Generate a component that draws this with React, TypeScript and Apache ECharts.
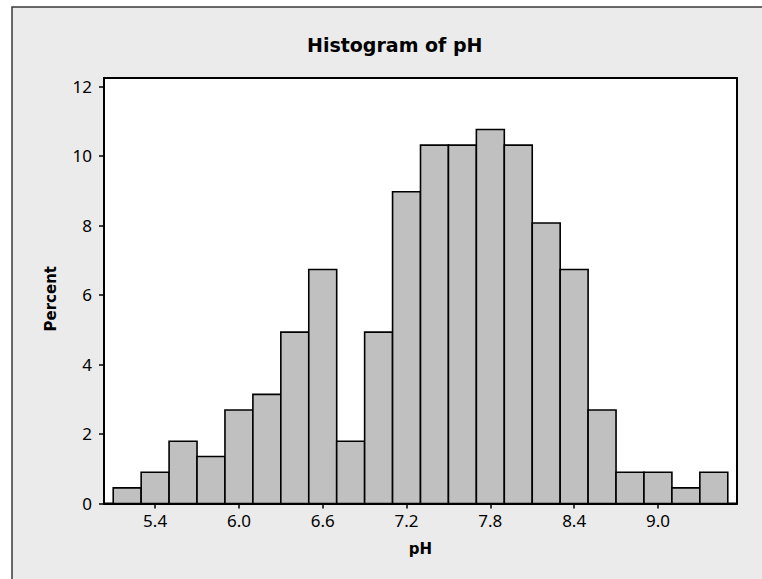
import React, { useEffect, useRef } from "react";
import * as echarts from "echarts";

// Histogram bins (midpoints, pH) and their heights (percent)
const binMids = [5.2, 5.4, 5.6, 5.8, 6.0, 6.2, 6.4, 6.6, 6.8, 7.0, 7.2, 7.4, 7.6, 7.8, 8.0, 8.2, 8.4, 8.6, 8.8, 9.0, 9.2, 9.4];
const binWidth = 0.2;
const percents = [0.45, 0.9, 1.79, 1.35, 2.69, 3.14, 4.93, 6.73, 1.79, 4.93, 8.97, 10.31, 10.31, 10.76, 10.31, 8.07, 6.73, 2.69, 0.9, 0.9, 0.45, 0.9];
const xTicks = [5.4, 6.0, 6.6, 7.2, 7.8, 8.4, 9.0];
const yTicks = [0, 2, 4, 6, 8, 10, 12];

const titleText = "Histogram of pH";
const xName = "pH";
const yName = "Percent";

export default function App() {
  const ref = useRef<HTMLDivElement>(null);
  useEffect(() => {
    if (!ref.current) return;
    const chart = echarts.init(ref.current, undefined, { renderer: "svg" });
    const data = binMids.map((m, i) => [m, percents[i]]);
    chart.setOption({
      animation: false,
      backgroundColor: "#ffffff",
      graphic: [
        {
          type: "rect",
          z: -100,
          silent: true,
          shape: { x: 12, y: 7, width: 800, height: 700 },
          style: { fill: "#ebebeb", stroke: "#3a3a3a", lineWidth: 1.5 },
        },
      ],
      title: {
        text: titleText,
        left: 302,
        top: 30,
        textStyle: { fontFamily: "DejaVu Sans", fontWeight: "bold", fontSize: 19, color: "#000" },
      },
      grid: {
        left: 104,
        right: 25,
        top: 78,
        bottom: 75.5,
        show: true,
        backgroundColor: "#ffffff",
        borderColor: "#000",
        borderWidth: 2,
      },
      xAxis: {
        type: "value",
        min: 5.034,
        max: 9.566,
        name: xName,
        nameLocation: "middle",
        nameGap: 38,
        nameTextStyle: { fontFamily: "DejaVu Sans", fontWeight: "bold", fontSize: 15, color: "#000" },
        axisLine: { show: true, lineStyle: { color: "#000", width: 2 } },
        axisTick: { show: true, customValues: xTicks, length: 5, lineStyle: { color: "#000", width: 1.5 } },
        axisLabel: {
          customValues: xTicks,
          formatter: (v: number) => v.toFixed(1),
          fontFamily: "Noto Sans",
          fontSize: 17,
          color: "#000",
          margin: 8,
        },
        splitLine: { show: false },
      },
      yAxis: {
        type: "value",
        min: 0,
        max: 12.24,
        name: yName,
        nameLocation: "middle",
        nameGap: 46,
        nameTextStyle: {
          fontFamily: "DejaVu Sans",
          fontWeight: "bold",
          fontSize: 15,
          color: "#000",
          padding: [0, 16, 0, 0],
        },
        axisLine: { show: true, lineStyle: { color: "#000", width: 2 } },
        axisTick: { show: true, customValues: yTicks, length: 5, lineStyle: { color: "#000", width: 1.5 } },
        axisLabel: {
          customValues: yTicks,
          fontFamily: "Noto Sans",
          fontSize: 17,
          color: "#000",
          margin: 12,
        },
        splitLine: { show: false },
      },
      series: [
        {
          type: "custom",
          encode: { x: 0, y: 1 },
          data,
          renderItem: (params: any, api: any) => {
            const mid = api.value(0);
            const v = api.value(1);
            const p0 = api.coord([mid - binWidth / 2, v]);
            const p1 = api.coord([mid + binWidth / 2, 0]);
            return {
              type: "rect",
              shape: { x: p0[0], y: p0[1], width: p1[0] - p0[0], height: p1[1] - p0[1] },
              style: { fill: "#c0c0c0", stroke: "#000", lineWidth: 1.6 },
            };
          },
        },
      ],
    });
    return () => chart.dispose();
  }, []);
  return (
    <div
      ref={ref}
      style={{ position: "fixed", left: 0, top: 0, width: 762, height: 579 }}
    />
  );
}
